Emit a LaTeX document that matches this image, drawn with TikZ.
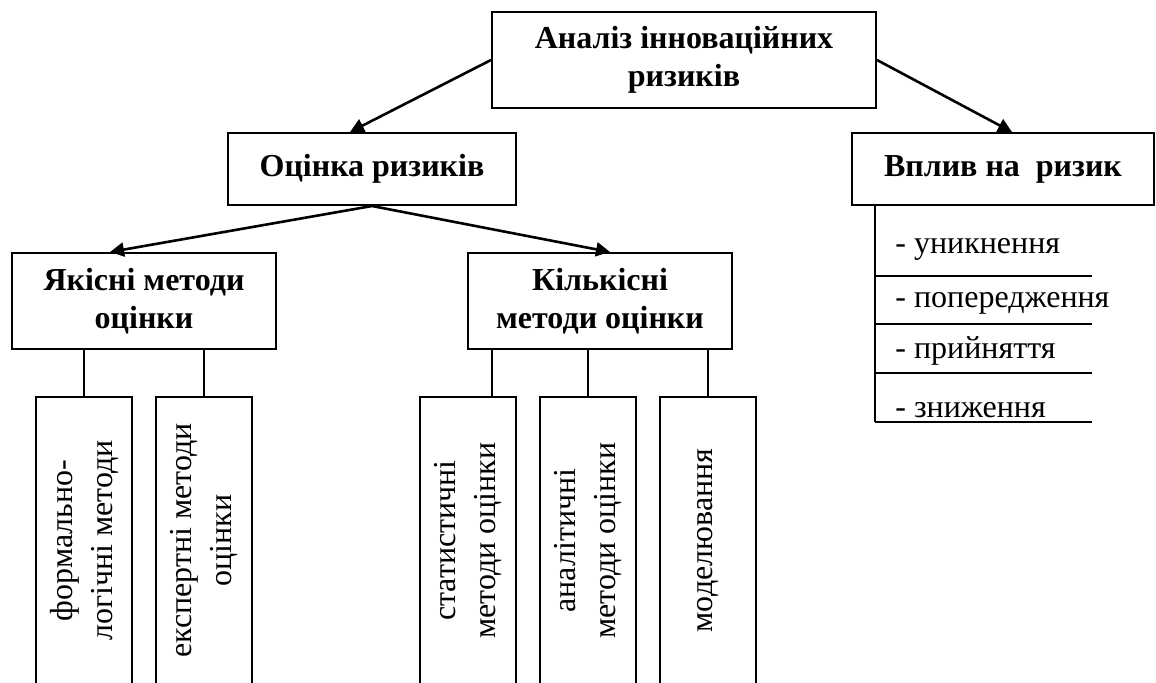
\documentclass[tikz,border=0pt]{standalone}
\usepackage{fontspec}
\setmainfont{Liberation Serif}
\usetikzlibrary{arrows.meta,calc}

\begin{document}
\begin{tikzpicture}[x=0.5pt,y=-0.5pt,font=\fontsize{16}{19}\selectfont,
    pointer/.style={line width=1.3pt,-{Triangle[length=7pt,width=7pt]}}]

      \useasboundingbox (0,0) rectangle (1156,682);

      \begin{scope}[every node/.style={draw,line width=1pt,align=center,inner sep=0pt,
          font=\fontsize{16}{19}\selectfont\bfseries}]
        \node[minimum width=192pt,minimum height=48pt] (1) at (684,60) {Аналіз інноваційних\\ризиків};
        \node[minimum width=144pt,minimum height=36pt] (2) at (372,169) {Оцінка ризиків};
        \node[minimum width=151pt,minimum height=36pt] (3) at (1003,169) {Вплив на~ ризик};
        \node[minimum width=132pt,minimum height=48pt] (4) at (144,301) {Якісні методи\\оцінки};
        \node[minimum width=132pt,minimum height=48pt] (5) at (600,301) {Кількісні\\методи оцінки};
      \end{scope}

      \begin{scope}[every node/.style={draw,line width=1pt,rotate=90,align=center,inner sep=0pt,
          minimum width=143.5pt,minimum height=48pt,font=\fontsize{16}{20}\selectfont}]
        \node (6)  at (84,540.5)  {формально-\\логічні методи};
        \node (7)  at (204,540.5) {експертні методи\\оцінки};
        \node (8)  at (468,540.5) {статистичні\\методи оцінки};
        \node (9)  at (588,540.5) {аналітичні\\методи оцінки};
        \node (10) at (708,540.5) {моделювання};
      \end{scope}

      \begin{scope}[every node/.style={anchor=base west,inner sep=0pt}]
        \node (11) at (895,253) {- уникнення};
        \node (12) at (895,307) {- попередження};
        \node (13) at (895,358) {- прийняття};
        \node (14) at (895,417) {- зниження};
      \end{scope}

      % arrows
      \draw[pointer] (1.west) -- ($(2.north)+(-22,0)$);
      \draw[pointer] (1.east) -- ($(3.north)+(9,0)$);
      \draw[pointer] (2.south) -- ($(4.north)+(-34,0)$);
      \draw[pointer] (2.south) -- ($(5.north)+(10,0)$);

      % plain links
      \begin{scope}[line width=1pt]
        \draw (6.east) -- (6.east |- 4.south);
        \draw (7.east) -- (7.east |- 4.south);
        \draw ($(8.east)+(24,0)$) -- ($(8.east |- 5.south)+(24,0)$);
        \draw (9.east) -- (9.east |- 5.south);
        \draw (10.east) -- (10.east |- 5.south);

        \coordinate (r) at ($(3.south west)+(24,0)$);
        \draw (r) -- (r |- 0,422);
        \foreach \y in {276,324,373,422}
          \draw (r |- 0,\y) -- (1092,\y);
      \end{scope}

    \end{tikzpicture}
\end{document}
